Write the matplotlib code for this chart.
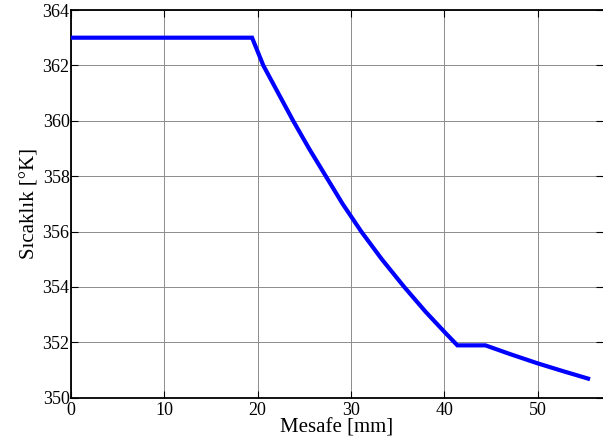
import numpy as np
import matplotlib
matplotlib.use("Agg")
import matplotlib.pyplot as plt

# distance along the part [mm] and temperature [K]
mesafe = [0.0, 19.4, 20.6, 22.2, 23.8, 25.5, 27.3, 29.1, 31.1, 33.3, 35.7, 38.0, 40.0, 41.4,
          44.4, 47.0, 50.0, 52.7, 55.4]
sicaklik = [363.0, 363.0, 362.0, 361.0, 360.0, 359.0, 358.0, 357.0, 356.0, 355.0, 354.0, 353.1,
            352.38, 351.89, 351.89, 351.58, 351.24, 350.96, 350.69]

xticks = [0, 10, 20, 30, 40, 50]
yticks = [350, 352, 354, 356, 358, 360, 362, 364]

plt.rcParams['font.family'] = ['Liberation Serif', 'DejaVu Serif']

fig = plt.figure(figsize=(6.03, 4.41), dpi=100)
ax = fig.add_axes([71/603, 43.3/441, 532/603, 387.7/441])

ax.plot(mesafe, sicaklik, color='#0000ff', lw=3, solid_joinstyle='miter', zorder=3)

ax.set_xlim(0, 57)
ax.set_ylim(350, 364)
ax.set_xticks(xticks)
ax.set_yticks(yticks)
ax.grid(True, color='#8c8c8c', lw=0.7, ls='-')
ax.tick_params(direction='in', length=5, width=0.8, labelsize=13, top=True, right=True)
ax.tick_params(axis='y', pad=1)
ax.tick_params(axis='x', pad=3)
for side in ['left', 'bottom', 'top']:
    ax.spines[side].set_linewidth(1.3)
ax.spines['right'].set_visible(False)

ax.set_xlabel('Mesafe [mm]', fontsize=15, labelpad=0)
ax.set_ylabel('Sıcaklık [°K]', fontsize=15, labelpad=2)

fig.savefig('out.png', dpi=100)
